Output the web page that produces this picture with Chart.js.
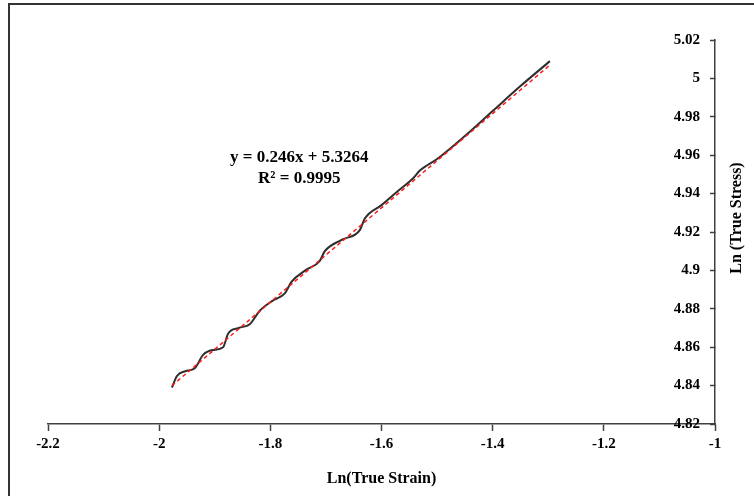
<!DOCTYPE html>
<html>
<head>
<meta charset="utf-8">
<script src="https://cdn.jsdelivr.net/npm/chart.js@4"></script>
<style>
  html, body { margin: 0; padding: 0; background: #fff; }
  canvas { display: block; }
</style>
</head>
<body>
<canvas id="chart" width="754" height="496"></canvas>
<script>
// ln(true strain) / ln(true stress)
const strainLn = [-1.977, -1.968, -1.953, -1.936, -1.921, -1.904, -1.885, -1.876, -1.857, -1.837,
  -1.819, -1.797, -1.774, -1.762, -1.737, -1.711, -1.702, -1.671, -1.639, -1.630,
  -1.600, -1.572, -1.543, -1.531, -1.500, -1.450, -1.400, -1.350, -1.297];
const stressLn = [4.839, 4.845, 4.8475, 4.849, 4.856, 4.8585, 4.860, 4.867, 4.870, 4.872,
  4.879, 4.884, 4.888, 4.894, 4.900, 4.905, 4.910, 4.916, 4.921, 4.927,
  4.934, 4.941, 4.948, 4.952, 4.958, 4.970, 4.983, 4.996, 5.009];

// linear trendline ends
const trendX = [-1.977, -1.297];
const trendY = [4.840, 5.007];

const xTicks = [-2.2, -2, -1.8, -1.6, -1.4, -1.2, -1];
const yTicks = [4.82, 4.84, 4.86, 4.88, 4.9, 4.92, 4.94, 4.96, 4.98, 5, 5.02];

const eqLines = ["y = 0.246x + 5.3264", "R² = 0.9995"];
const eqAt = { x: -1.748, y: 4.959 };

const serif = "'Liberation Serif', 'Times New Roman', serif";
const axisColor = "#404040";

const toPoints = (xs, ys) => xs.map((x, i) => ({ x: x, y: ys[i] }));

const extras = {
  id: "extras",
  beforeDraw(chart) {
    const c = chart.ctx;
    c.save();
    c.fillStyle = "#fff";
    c.fillRect(0, 0, chart.width, chart.height);
    // frame (only left/top edges visible)
    c.strokeStyle = "#333";
    c.lineWidth = 2;
    c.strokeRect(9, 4, chart.width + 10, chart.height + 10);
    c.restore();
  },
  afterDraw(chart) {
    const c = chart.ctx;
    const xs = chart.scales.x, ys = chart.scales.y;
    c.save();
    c.fillStyle = "#000";
    c.textAlign = "center";
    c.textBaseline = "middle";
    c.font = "bold 17px " + serif;
    const px = xs.getPixelForValue(eqAt.x);
    const py = ys.getPixelForValue(eqAt.y);
    c.fillText(eqLines[0], px, py);
    c.fillText(eqLines[1], px, py + 21);

    // y title, reading bottom to top
    c.font = "bold 16px " + serif;
    c.translate(737, 218);
    c.rotate(-Math.PI / 2);
    c.fillText("Ln (True Stress)", 0, 0);
    c.restore();
  }
};

new Chart(document.getElementById("chart"), {
  type: "line",
  data: {
    datasets: [
      {
        label: "Linear",
        data: toPoints(trendX, trendY),
        borderColor: "#ff1a1a",
        borderWidth: 1.5,
        borderDash: [4, 3],
        pointRadius: 0,
        fill: false
      },
      {
        label: "Ln",
        data: toPoints(strainLn, stressLn),
        borderColor: "#2e2e2e",
        borderWidth: 2,
        pointRadius: 0,
        cubicInterpolationMode: "monotone",
        fill: false
      }
    ]
  },
  options: {
    responsive: false,
    animation: false,
    devicePixelRatio: 1,
    layout: { padding: { left: 48, top: 40, right: 0, bottom: 0 } },
    plugins: { legend: { display: false }, tooltip: { enabled: false } },
    scales: {
      x: {
        type: "linear",
        position: "bottom",
        min: -2.2,
        max: -1,
        afterBuildTicks: s => { s.ticks = xTicks.map(v => ({ value: v })); },
        afterFit: s => { s.height = 72; },
        ticks: {
          padding: 4,
          color: "#000",
          maxRotation: 0,
          autoSkip: false,
          font: { family: serif, size: 15, weight: "bold" },
          callback: v => String(v)
        },
        grid: { drawOnChartArea: false, tickLength: 7, color: axisColor, tickWidth: 1.5 },
        border: { color: axisColor, width: 1.5 },
        title: {
          display: true,
          text: "Ln(True Strain)",
          color: "#000",
          font: { family: serif, size: 16, weight: "bold" },
          padding: { top: 0, bottom: 8 }
        }
      },
      y: {
        type: "linear",
        position: "right",
        min: 4.82,
        max: 5.02,
        afterBuildTicks: s => { s.ticks = yTicks.map(v => ({ value: v })); },
        afterFit: s => { s.width = 39; },
        ticks: {
          mirror: true,
          padding: -15,
          color: "#000",
          font: { family: serif, size: 15, weight: "bold" },
          callback: v => String(v)
        },
        grid: { drawOnChartArea: false, tickLength: -5, color: axisColor, tickWidth: 1.5 },
        border: { color: axisColor, width: 1.5 }
      }
    }
  },
  plugins: [extras]
});
</script>
</body>
</html>
